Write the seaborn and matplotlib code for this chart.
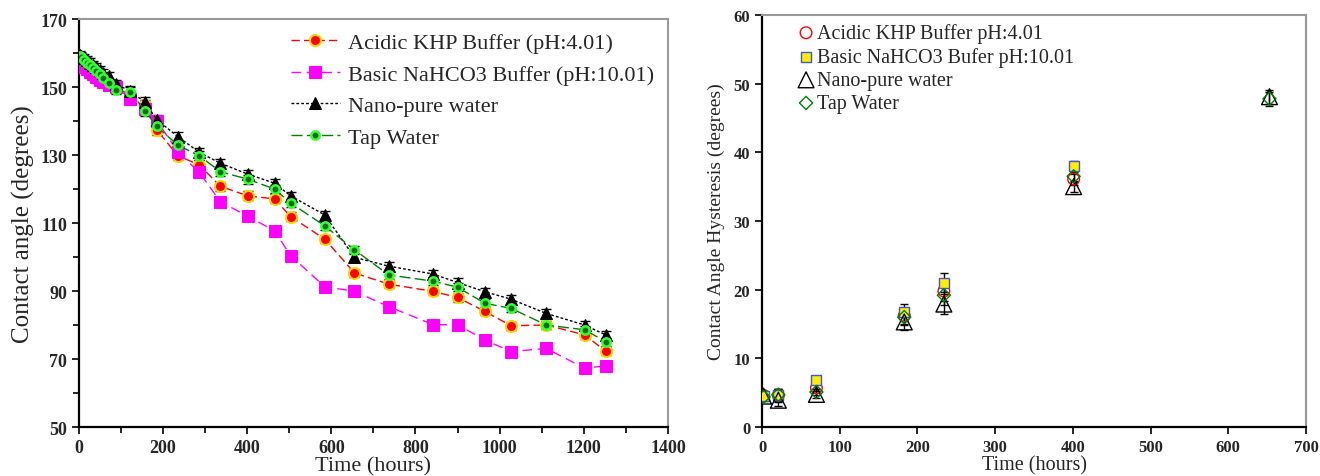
import numpy as np
import pandas as pd
import matplotlib
matplotlib.use("Agg")
import matplotlib.pyplot as plt
import seaborn as sns

# ---- left panel: contact angle vs time ----
hours = [2, 6, 13, 20, 27, 34, 41, 50, 58, 72, 88, 122, 157, 185, 235, 286, 336,
         401, 465, 503, 584, 655, 737, 842, 900, 965, 1027, 1111, 1202, 1252]
acidic = [158.5, 158.0, 157.0, 156.3, 155.5, 154.7, 154.0, 153.0, 152.0, 151.0, 150.0,
          147.5, 144.7, 137.4, 129.8, 127.1, 120.8, 118.0, 117.1, 111.9, 105.3, 95.3,
          92.0, 89.9, 88.1, 84.0, 79.8, 80.0, 77.1, 72.3]
basic = [157.5, 157.0, 156.0, 155.3, 154.5, 153.8, 153.0, 152.2, 151.4, 150.5, 150.0,
         146.5, 143.5, 140.1, 131.0, 124.9, 116.3, 112.0, 107.7, 100.4, 91.3, 89.9,
         85.4, 80.1, 80.1, 75.6, 72.2, 73.1, 67.3, 68.0]
nano = [159.5, 159.2, 158.6, 158.0, 157.2, 156.5, 155.8, 155.0, 154.2, 153.1, 150.9,
        148.8, 145.5, 140.4, 135.4, 130.8, 127.6, 124.4, 121.7, 118.0, 112.4, 99.9,
        97.3, 95.0, 92.5, 89.8, 87.6, 83.4, 80.0, 77.1]
tap = [159.2, 158.8, 158.0, 157.2, 156.4, 155.6, 154.8, 153.8, 152.6, 151.1, 149.2,
       148.6, 143.0, 138.4, 132.9, 129.8, 125.1, 122.9, 120.0, 115.9, 109.2, 102.1,
       94.7, 92.9, 91.1, 86.4, 84.9, 80.0, 78.6, 75.1]
# rough std dev (black error bars)
angle_err = [1.2, 1.2, 1.2, 1.2, 1.2, 1.2, 1.2, 1.2, 1.2, 1.2, 1.3, 1.4, 1.5, 1.5, 1.4,
             1.3, 1.3, 1.3, 1.3, 1.2, 1.2, 1.2, 1.2, 1.2, 1.2, 1.2, 1.2, 1.2, 1.2, 1.2]

# ---- right panel: hysteresis vs time ----
hyst_hours = [2, 21, 70, 183, 234, 401, 653]
hyst_acidic = [4.6, 4.6, 5.7, 16.2, 19.8, 36.1, np.nan]
hyst_basic = [4.5, 4.7, 6.8, 16.7, 21.0, 38.0, np.nan]
hyst_nano = [4.5, 3.9, 4.75, 15.3, 17.9, 35.0, 48.1]
hyst_tap = [4.4, 4.7, 5.1, 16.0, 19.2, 36.5, 47.8]
hyst_err = [0.6, 0.9, 0.5, 1.2, 1.4, 0.8, 1.0]

sns.set_style("white")
plt.rcParams["font.family"] = ["Liberation Serif", "DejaVu Serif"]

fig = plt.figure(figsize=(13.2, 4.77), dpi=100)
ax1 = fig.add_axes([0.0598, 0.1027, 0.4462, 0.8553])
ax2 = fig.add_axes([0.5773, 0.1027, 0.4121, 0.8638])

left_df = pd.DataFrame({"hours": hours, "acidic": acidic, "basic": basic,
                        "nano": nano, "tap": tap})

left_series = [
    ("acidic", "Acidic KHP Buffer (pH:4.01)",
     dict(color="red", marker="o", markersize=8, markerfacecolor="red",
          markeredgecolor="#ffd700", markeredgewidth=1.5, dashes=(6, 3))),
    ("basic", "Basic NaHCO3 Buffer (pH:10.01)",
     dict(color="magenta", marker="s", markersize=9, markerfacecolor="magenta",
          markeredgecolor="magenta", dashes=(7, 4))),
    ("nano", "Nano-pure water",
     dict(color="black", marker="^", markersize=8, markerfacecolor="black",
          markeredgecolor="black", dashes=(2, 1.5))),
    ("tap", "Tap Water",
     dict(color="green", marker="o", markersize=6, markerfacecolor="#0a6e0a",
          markeredgecolor="#33ff33", markeredgewidth=1.8, dashes=(8, 3))),
]

# error bars first so markers sit on top
for col, _, _ in left_series:
    ax1.errorbar(left_df["hours"], left_df[col], yerr=angle_err, fmt="none",
                 ecolor="black", elinewidth=1, capsize=3.5, capthick=1, zorder=2)

for col, label, kw in left_series:
    sns.lineplot(data=left_df, x="hours", y=col, ax=ax1, label=label,
                 linewidth=1, zorder=3, **kw)

ax1.set_xlim(0, 1400)
ax1.set_ylim(50, 170)
ax1.set_xticks(np.arange(0, 1401, 200))
ax1.set_xticks(np.arange(100, 1400, 200), minor=True)
ax1.set_yticks(np.arange(50, 171, 20))
ax1.set_yticks(np.arange(60, 170, 20), minor=True)
ax1.set_xlabel("Time (hours)", fontsize=16, labelpad=0)
ax1.set_ylabel("Contact angle (degrees)", fontsize=18, labelpad=4)
ax1.legend(loc="upper right", frameon=False, fontsize=16,
           handlelength=2.2, handletextpad=0.4, labelspacing=0.5,
           borderaxespad=0.2, bbox_to_anchor=(1.0, 1.0))

# right panel
right_df = pd.DataFrame({"hours": hyst_hours, "acidic": hyst_acidic,
                         "basic": hyst_basic, "nano": hyst_nano, "tap": hyst_tap})

right_series = [
    ("acidic", "Acidic KHP Buffer pH:4.01",
     dict(marker="o", s=70, facecolor="none", edgecolor="red", linewidth=1)),
    ("basic", "Basic NaHCO3 Bufer pH:10.01",
     dict(marker="s", s=60, color="#ffee00", edgecolor="#4455dd", linewidth=1)),
    ("nano", "Nano-pure water",
     dict(marker="^", s=130, facecolor="none", edgecolor="black", linewidth=1)),
    ("tap", "Tap Water",
     dict(marker="D", s=45, facecolor="none", edgecolor="green", linewidth=1)),
]

for col, _, _ in right_series:
    ax2.errorbar(right_df["hours"], right_df[col], yerr=hyst_err, fmt="none",
                 ecolor="black", elinewidth=1, capsize=3, capthick=1, zorder=2)

for col, label, kw in right_series:
    sns.scatterplot(data=right_df, x="hours", y=col, ax=ax2, label=label,
                    zorder=3, **kw)

ax2.set_xlim(0, 700)
ax2.set_ylim(0, 60)
ax2.set_xticks(np.arange(0, 701, 100))
ax2.set_yticks(np.arange(0, 61, 10))
ax2.set_xlabel("Time (hours)", fontsize=14.5, labelpad=0)
ax2.set_ylabel("Contact Angle Hysteresis (degrees)", fontsize=14, labelpad=6)
ax2.legend(loc="upper left", frameon=False, fontsize=14.5, handletextpad=0.05,
           labelspacing=0.2, borderpad=0.0, handlelength=1, borderaxespad=0.2,
           bbox_to_anchor=(0.055, 0.99))

for ax, size in ((ax1, 13), (ax2, 12)):
    for side in ("left", "bottom"):
        ax.spines[side].set_color("black")
        ax.spines[side].set_linewidth(1.6)
    for side in ("top", "right"):
        ax.spines[side].set_color("#999999")
        ax.spines[side].set_linewidth(1.5)
    ax.tick_params(which="both", direction="out", color="black", width=1.2,
                   left=True, bottom=True)
    ax.tick_params(which="major", length=5, labelsize=size)
    ax.tick_params(which="minor", length=4)
    for lab in ax.get_xticklabels() + ax.get_yticklabels():
        lab.set_fontweight("bold")

fig.savefig("out.png", dpi=100)
